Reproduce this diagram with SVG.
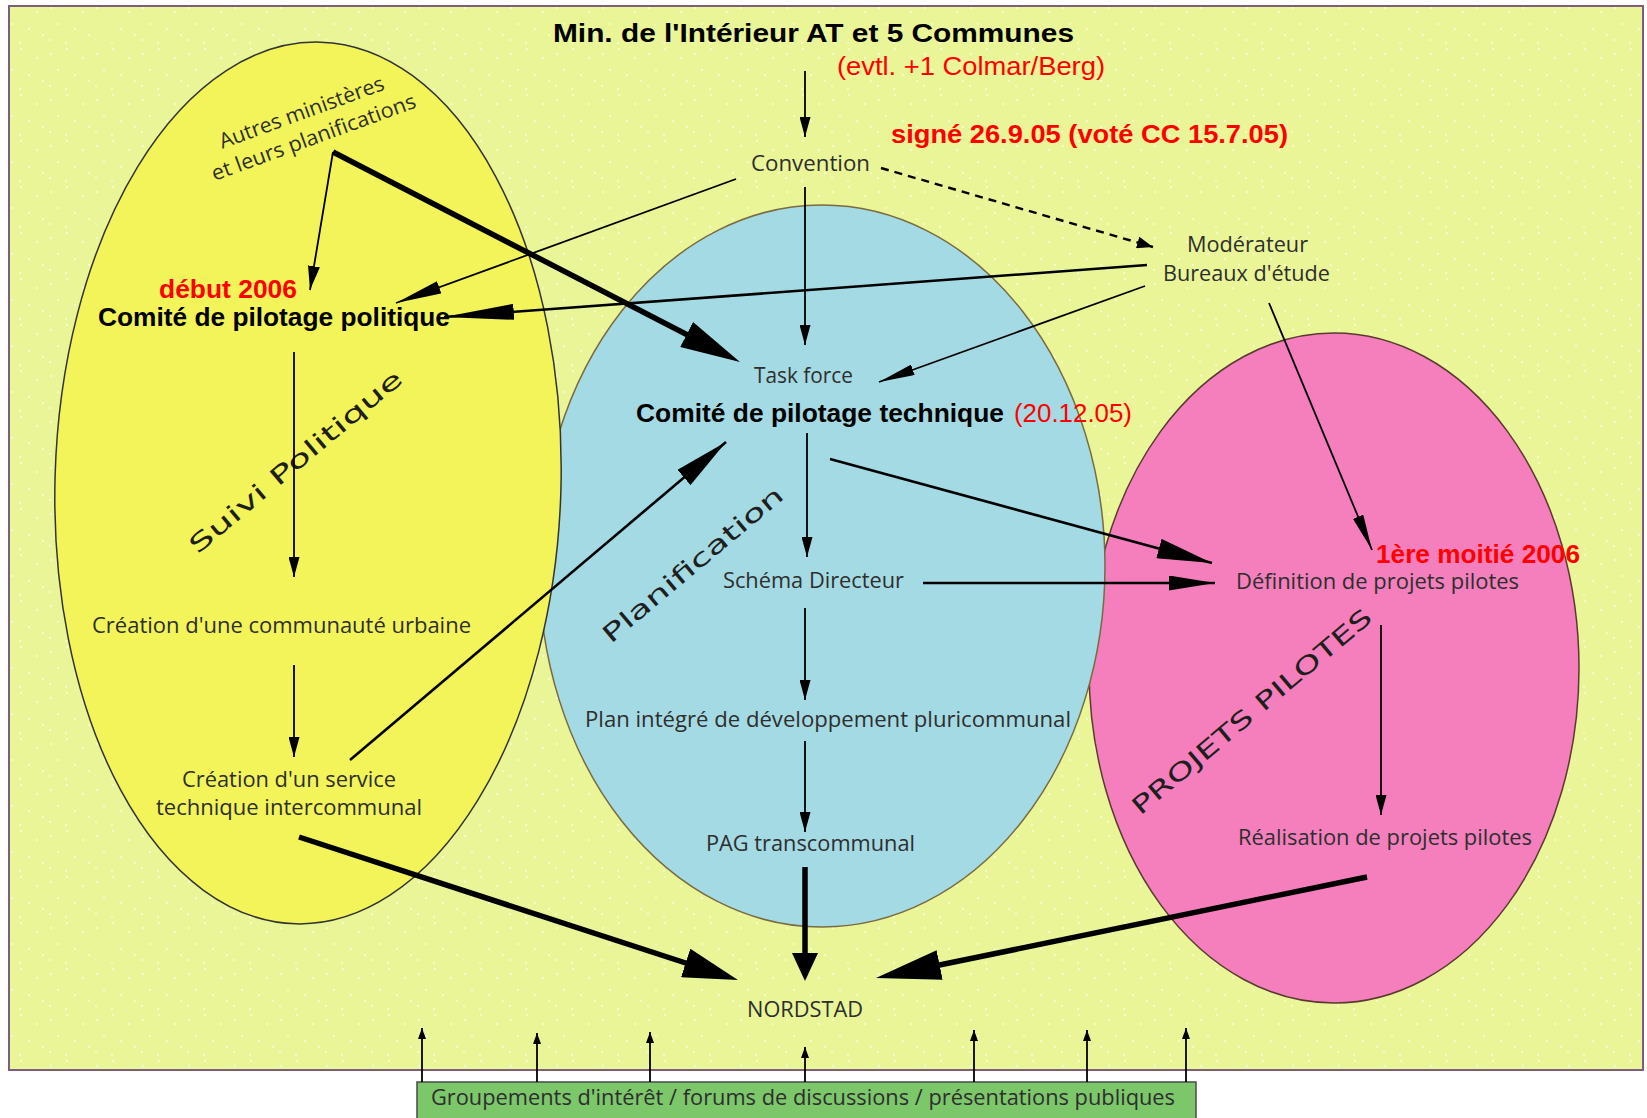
<svg xmlns="http://www.w3.org/2000/svg" width="1647" height="1118" viewBox="0 0 1647 1118">
<defs>
<style>
.t{font-family:"Open Sans","Liberation Sans",Arial,sans-serif;font-size:21px;fill:#2e2e2e}
.k{font-family:"Liberation Sans",Arial,sans-serif;font-weight:bold;font-size:26px;fill:#000}
.r{font-family:"Liberation Sans",Arial,sans-serif;font-size:26px;fill:#ff0000}
.rb{font-family:"Liberation Sans",Arial,sans-serif;font-weight:bold;font-size:26px;fill:#ff0000}
.w{font-family:"DejaVu Sans",Verdana,sans-serif;font-size:24px;fill:#1e1e1e}
.ln{fill:none;stroke:#000;stroke-width:1.8}
.md{fill:none;stroke:#000;stroke-width:2.6}
.tk{fill:none;stroke:#000;stroke-width:5.5}
.ds{fill:none;stroke:#000;stroke-width:2.4;stroke-dasharray:8 6}
.ah{fill:#000}
.el{stroke-width:1.5}
</style>
<pattern id="dots" width="46" height="46" patternUnits="userSpaceOnUse">
<g fill="#fff" opacity="0.75">
<circle cx="5" cy="8" r="0.9"/><circle cx="21" cy="3" r="0.9"/><circle cx="37" cy="12" r="0.9"/>
<circle cx="12" cy="24" r="0.9"/><circle cx="29" cy="29" r="0.9"/><circle cx="43" cy="35" r="0.9"/>
<circle cx="4" cy="40" r="0.9"/><circle cx="20" cy="43" r="0.9"/>
</g>
</pattern>
<marker id="ms" viewBox="0 0 20 11" markerWidth="20" markerHeight="11" refX="20" refY="5.5" orient="auto" markerUnits="userSpaceOnUse"><path class="ah" d="M0,0 L20,5.5 L0,11 z"/></marker>
<marker id="mu" viewBox="0 0 11 8" markerWidth="11" markerHeight="8" refX="11" refY="4" orient="auto" markerUnits="userSpaceOnUse"><path class="ah" d="M0,0 L11,4 L0,8 z"/></marker>
<marker id="md" viewBox="0 0 16 12" markerWidth="16" markerHeight="12" refX="16" refY="6" orient="auto" markerUnits="userSpaceOnUse"><path class="ah" d="M0,0 L16,6 L0,12 z"/></marker>
<marker id="mt" viewBox="0 0 36 11" markerWidth="36" markerHeight="11" refX="36" refY="5.5" orient="auto" markerUnits="userSpaceOnUse"><path class="ah" d="M0,0 L36,5.5 L0,11 z"/></marker>
<marker id="mt2" viewBox="0 0 24 12" markerWidth="24" markerHeight="12" refX="24" refY="6" orient="auto" markerUnits="userSpaceOnUse"><path class="ah" d="M0,0 L24,6 L0,12 z"/></marker>
<marker id="mn1" viewBox="0 0 46 13" markerWidth="46" markerHeight="13" refX="46" refY="6.5" orient="auto" markerUnits="userSpaceOnUse"><path class="ah" d="M0,0 L46,6.5 L0,13 z"/></marker>
<marker id="mn2" viewBox="0 0 70 16" markerWidth="70" markerHeight="16" refX="70" refY="8" orient="auto" markerUnits="userSpaceOnUse"><path class="ah" d="M0,0 L70,8 L0,16 z"/></marker>
<marker id="mm" viewBox="0 0 55 20" markerWidth="55" markerHeight="20" refX="55" refY="10" orient="auto" markerUnits="userSpaceOnUse"><path class="ah" d="M0,0 L55,10 L0,20 z"/></marker>
<marker id="mm2" viewBox="0 0 46 15" markerWidth="46" markerHeight="15" refX="46" refY="7.5" orient="auto" markerUnits="userSpaceOnUse"><path class="ah" d="M0,0 L46,7.5 L0,15 z"/></marker>
<marker id="mL1" viewBox="0 0 60 28" markerWidth="60" markerHeight="28" refX="30" refY="14" orient="auto" markerUnits="userSpaceOnUse"><path class="ah" d="M0,0 L60,14 L0,28 z"/></marker>
<marker id="mL2" viewBox="0 0 55 30" markerWidth="55" markerHeight="30" refX="27.5" refY="15" orient="auto" markerUnits="userSpaceOnUse"><path class="ah" d="M0,0 L55,15 L0,30 z"/></marker>
<marker id="mL3" viewBox="0 0 28 26" markerWidth="28" markerHeight="26" refX="14" refY="13" orient="auto" markerUnits="userSpaceOnUse"><path class="ah" d="M0,0 L28,13 L0,26 z"/></marker>
<marker id="mL4" viewBox="0 0 65 30" markerWidth="65" markerHeight="30" refX="32.5" refY="15" orient="auto" markerUnits="userSpaceOnUse"><path class="ah" d="M0,0 L65,15 L0,30 z"/></marker>
</defs>

<rect x="0" y="0" width="1647" height="1118" fill="#ffffff"/>
<g id="frame">
<rect x="9" y="6" width="1634" height="1064" fill="#e9f597" stroke="#7d5f7d" stroke-width="2"/>
<rect x="10" y="7" width="1632" height="1062" fill="url(#dots)"/>
</g>

<g id="region-projets">
<ellipse cx="1334" cy="668" rx="245" ry="335" fill="#f47fbc" stroke="#5a3a30" class="el"/>
<text class="w" font-size="26" x="1257" y="718" text-anchor="middle" textLength="305" lengthAdjust="spacingAndGlyphs" transform="rotate(-40 1257 718)">PROJETS PILOTES</text>
</g>
<g id="region-planification">
<ellipse cx="822" cy="566" rx="283" ry="361" fill="#a4dae3" stroke="#7a6a40" class="el"/>
<text class="w" x="698" y="571" text-anchor="middle" textLength="228" lengthAdjust="spacingAndGlyphs" transform="rotate(-40 698 571)">Planification</text>
</g>
<g id="region-suivi">
<ellipse cx="308" cy="483" rx="253" ry="441" fill="#f2f45a" stroke="#333" class="el" transform="rotate(1.6 308 483)"/>
<text class="w" x="301" y="468" text-anchor="middle" textLength="270" lengthAdjust="spacingAndGlyphs" transform="rotate(-40 301 468)">Suivi Politique</text>
</g>

<g id="title">
<text class="k" font-size="30" x="553" y="42" textLength="521" lengthAdjust="spacingAndGlyphs">Min. de l'Intérieur AT et 5 Communes</text>
<text class="r" x="837" y="75" textLength="268" lengthAdjust="spacingAndGlyphs">(evtl. +1 Colmar/Berg)</text>
</g>
<g id="convention">
<text class="t" x="751" y="171" textLength="119" lengthAdjust="spacingAndGlyphs">Convention</text>
<text class="rb" font-size="27" x="891" y="143" textLength="397" lengthAdjust="spacingAndGlyphs">signé 26.9.05 (voté CC 15.7.05)</text>
</g>
<g id="moderateur">
<text class="t" x="1187" y="252" textLength="121" lengthAdjust="spacingAndGlyphs">Modérateur</text>
<text class="t" x="1163" y="281" textLength="167" lengthAdjust="spacingAndGlyphs">Bureaux d'étude</text>
</g>
<g id="autres">
<text class="t" font-size="20" x="304" y="119" text-anchor="middle" textLength="174" lengthAdjust="spacingAndGlyphs" transform="rotate(-20 304 119)">Autres ministères</text>
<text class="t" font-size="20" x="316" y="144" text-anchor="middle" textLength="216" lengthAdjust="spacingAndGlyphs" transform="rotate(-20 316 144)">et leurs planifications</text>
</g>
<g id="comite-politique">
<text class="rb" x="159" y="298" textLength="138" lengthAdjust="spacingAndGlyphs">début 2006</text>
<text class="k" x="98" y="326" textLength="352" lengthAdjust="spacingAndGlyphs">Comité de pilotage politique</text>
</g>
<g id="communaute">
<text class="t" x="92" y="633" textLength="379" lengthAdjust="spacingAndGlyphs">Création d'une communauté urbaine</text>
</g>
<g id="service">
<text class="t" x="182" y="787" textLength="214" lengthAdjust="spacingAndGlyphs">Création d'un service</text>
<text class="t" x="156" y="815" textLength="266" lengthAdjust="spacingAndGlyphs">technique intercommunal</text>
</g>
<g id="comite-technique">
<text class="t" x="754" y="383" textLength="99" lengthAdjust="spacingAndGlyphs">Task force</text>
<text class="k" x="636" y="422" textLength="368" lengthAdjust="spacingAndGlyphs">Comité de pilotage technique</text>
<text class="r" x="1014" y="422" textLength="118" lengthAdjust="spacingAndGlyphs">(20.12.05)</text>
</g>
<g id="schema">
<text class="t" x="723" y="588" textLength="181" lengthAdjust="spacingAndGlyphs">Schéma Directeur</text>
</g>
<g id="plan">
<text class="t" x="585" y="727" textLength="486" lengthAdjust="spacingAndGlyphs">Plan intégré de développement pluricommunal</text>
</g>
<g id="pag">
<text class="t" x="706" y="851" textLength="209" lengthAdjust="spacingAndGlyphs">PAG transcommunal</text>
</g>
<g id="nordstad">
<text class="t" font-size="23" x="747" y="1017" textLength="116" lengthAdjust="spacingAndGlyphs">NORDSTAD</text>
</g>
<g id="definition">
<text class="rb" x="1376" y="563" textLength="204" lengthAdjust="spacingAndGlyphs">1ère moitié 2006</text>
<text class="t" x="1236" y="589" textLength="283" lengthAdjust="spacingAndGlyphs">Définition de projets pilotes</text>
</g>
<g id="realisation">
<text class="t" x="1238" y="845" textLength="294" lengthAdjust="spacingAndGlyphs">Réalisation de projets pilotes</text>
</g>
<g id="groupements">
<rect x="417" y="1082" width="779" height="42" fill="#7cc76a" stroke="#4a4a4a" stroke-width="1.5"/>
<text class="t" x="431" y="1105" textLength="744" lengthAdjust="spacingAndGlyphs">Groupements d'intérêt / forums de discussions / présentations publiques</text>
</g>

<g id="connectors">
<path class="ln" d="M805,71 V137" marker-end="url(#ms)"/>
<path class="ln" d="M805,187 V345" marker-end="url(#ms)"/>
<path class="ln" d="M736,179 L396,303" marker-end="url(#mn1)"/>
<path class="ds" d="M881,168 L1153,247" marker-end="url(#md)"/>
<path class="md" d="M1147,265 L444,317" marker-end="url(#mn2)"/>
<path class="ln" d="M1145,286 L879,382" marker-end="url(#mt)"/>
<path class="ln" stroke-width="2" d="M1269,303 L1372,550" marker-end="url(#mt)"/>
<path class="ln" stroke-width="2" d="M333,152 L310,290" marker-end="url(#mt2)"/>
<path class="tk" stroke-width="5" d="M333,152 L713.3,348.2" marker-end="url(#mL1)"/>
<path class="ln" d="M294,352 V577" marker-end="url(#ms)"/>
<path class="ln" d="M294,665 V757" marker-end="url(#ms)"/>
<path class="md" d="M350,760 L726,442" marker-end="url(#mm)"/>
<path class="tk" stroke-width="6" d="M299,837 L711.8,971.5" marker-end="url(#mL2)"/>
<path class="ln" d="M807,433 V557" marker-end="url(#ms)"/>
<path class="md" d="M830,459 L1212,563" marker-end="url(#mm)"/>
<path class="md" d="M923,583 H1215" marker-end="url(#mm2)"/>
<path class="ln" d="M805,608 V700" marker-end="url(#ms)"/>
<path class="ln" d="M805,741 V832" marker-end="url(#ms)"/>
<path class="tk" stroke-width="5" d="M805,867 V967" marker-end="url(#mL3)"/>
<path class="ln" stroke-width="2" d="M1381,625 V815" marker-end="url(#ms)"/>
<path class="tk" stroke-width="5" d="M1367,877 L907.8,971.5" marker-end="url(#mL4)"/>
<path class="ln" d="M422,1082 V1028" marker-end="url(#mu)"/>
<path class="ln" d="M537,1082 V1033" marker-end="url(#mu)"/>
<path class="ln" d="M650,1082 V1032" marker-end="url(#mu)"/>
<path class="ln" d="M805,1082 V1047" marker-end="url(#mu)"/>
<path class="ln" d="M974,1082 V1030" marker-end="url(#mu)"/>
<path class="ln" d="M1087,1082 V1030" marker-end="url(#mu)"/>
<path class="ln" d="M1186,1082 V1028" marker-end="url(#mu)"/>
</g>
</svg>
